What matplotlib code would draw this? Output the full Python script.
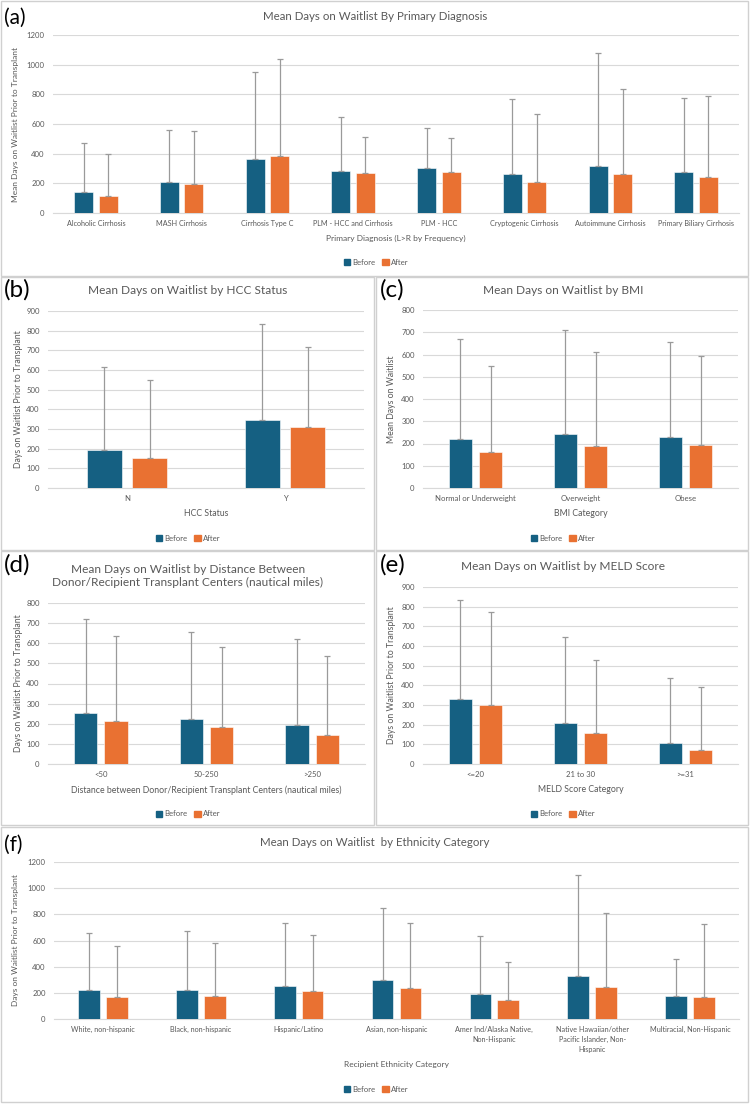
import matplotlib
matplotlib.use("Agg")
import matplotlib.pyplot as plt
import numpy as np
from matplotlib.patches import Rectangle, Patch
from matplotlib import font_manager

# ---------------- data ----------------
diag_cats = ["Alcoholic Cirrhosis", "MASH Cirrhosis", "Cirrhosis Type C",
             "PLM - HCC and Cirrhosis", "PLM - HCC", "Cryptogenic Cirrhosis",
             "Autoimmune Cirrhosis", "Primary Biliary Cirrhosis"]
diag_before = [143, 207, 361, 285, 301, 260, 319, 276]
diag_after = [114, 195, 384, 272, 274, 207, 261, 240]
diag_before_err = [332, 350, 591, 365, 274, 506, 757, 498]
diag_after_err = [286, 355, 651, 240, 234, 458, 573, 547]

hcc_cats = ["N", "Y"]
hcc_before = [191, 346]
hcc_after = [152, 312]
hcc_before_err = [424, 490]
hcc_after_err = [395, 405]

bmi_cats = ["Normal or Underweight", "Overweight", "Obese"]
bmi_before = [222, 243, 231]
bmi_after = [162, 190, 192]
bmi_before_err = [449, 467, 425]
bmi_after_err = [388, 421, 403]

dist_cats = ["<50", "50-250", ">250"]
dist_before = [252, 222, 195]
dist_after = [214, 184, 142]
dist_before_err = [467, 434, 426]
dist_after_err = [422, 397, 393]

meld_cats = ["<=20", "21 to 30", ">=31"]
meld_before = [333, 208, 105]
meld_after = [299, 157, 73]
meld_before_err = [503, 436, 334]
meld_after_err = [475, 370, 321]

eth_cats = ["White, non-hispanic", "Black, non-hispanic", "Hispanic/Latino",
            "Asian, non-hispanic", "Amer Ind/Alaska Native,\nNon-Hispanic",
            "Native Hawaiian/other\nPacific Islander, Non-\nHispanic",
            "Multiracial, Non-Hispanic"]
eth_before = [224, 221, 254, 295, 188, 331, 178]
eth_after = [170, 175, 211, 239, 145, 242, 170]
eth_before_err = [432, 450, 478, 552, 445, 767, 282]
eth_after_err = [387, 405, 430, 493, 287, 572, 557]

# ---------------- style ----------------
names = {f.name for f in font_manager.fontManager.ttflist}
FONT = "Liberation Sans Narrow" if "Liberation Sans Narrow" in names else "Lato"
plt.rcParams["font.family"] = [FONT, "DejaVu Sans"]

C_BEFORE = "#156082"
C_AFTER = "#E97132"
TXT = "#595959"
GRID = "#D9D9D9"
ERR = "#9A9A9A"

W, H = 750, 1104
fig = plt.figure(figsize=(W / 100, H / 100), dpi=100)


def fx(x):
    return x / W


def fy(y):
    return 1 - y / H


# panel borders
for (x0, y0, x1, y1) in [(1, 1, 748, 276), (1, 277, 374, 550), (376, 277, 748, 550),
                         (1, 551, 374, 825), (376, 551, 748, 825), (1, 827, 748, 1102)]:
    fig.patches.append(Rectangle((fx(x0), fy(y1)), fx(x1) - fx(x0), fy(y0) - fy(y1),
                                 transform=fig.transFigure, fill=False,
                                 edgecolor="#D0D0D0", lw=1.0))


def panel(box, cats, before, after, berr, aerr, ymax, ystep, title, title_xy,
          letter, letter_xy, letter_fs, ylabel, ylabel_x, xlabel, xlabel_y,
          legend_xy, title_fs=8.6, tick_fs=5.6, cat_fs=5.6, lab_fs=6.3):
    x0, y0, x1, y1 = box
    ax = fig.add_axes([fx(x0), fy(y1), fx(x1) - fx(x0), fy(y0) - fy(y1)])
    n = len(cats)
    x = np.arange(n)
    w = 0.222
    off = 0.143
    ax.bar(x - off, before, w, color=C_BEFORE, edgecolor="white", linewidth=0.4, zorder=3)
    ax.bar(x + off, after, w, color=C_AFTER, edgecolor="white", linewidth=0.4, zorder=3)
    ax.errorbar(x - off, before, yerr=[np.zeros(n), berr], fmt="none", ecolor=ERR,
                elinewidth=0.9, capsize=2, capthick=0.9, zorder=4)
    ax.errorbar(x + off, after, yerr=[np.zeros(n), aerr], fmt="none", ecolor=ERR,
                elinewidth=0.9, capsize=2, capthick=0.9, zorder=4)
    ax.set_xlim(-0.5, n - 0.5)
    ax.set_ylim(0, ymax)
    ax.set_yticks(np.arange(0, ymax + 1, ystep))
    ax.set_xticks(x)
    ax.set_xticklabels(cats, fontsize=cat_fs, color=TXT, linespacing=1.5)
    ax.tick_params(axis="y", labelsize=tick_fs, labelcolor=TXT, length=0, pad=6)
    ax.tick_params(axis="x", length=0, pad=5)
    ax.grid(axis="y", color=GRID, lw=0.8, zorder=0)
    ax.set_axisbelow(True)
    for s in ["top", "right", "left"]:
        ax.spines[s].set_visible(False)
    ax.spines["bottom"].set_color(GRID)
    ax.spines["bottom"].set_linewidth(0.8)
    fig.text(fx(title_xy[0]), fy(title_xy[1]), title, ha="center", va="center",
             fontsize=title_fs, color=TXT, linespacing=1.3)
    fig.text(fx(letter_xy[0]), fy(letter_xy[1]), letter, ha="left", va="center",
             fontsize=letter_fs, color="black")
    fig.text(fx(ylabel_x), fy((y0 + y1) / 2), ylabel, ha="center", va="center",
             rotation=90, fontsize=lab_fs, color=TXT)
    fig.text(fx((x0 + x1) / 2), fy(xlabel_y), xlabel, ha="center", va="center",
             fontsize=lab_fs, color=TXT)
    handles = [Patch(color=C_BEFORE, label="Before"), Patch(color=C_AFTER, label="After")]
    fig.legend(handles=handles, loc="center",
               bbox_to_anchor=(fx(legend_xy[0]), fy(legend_xy[1])),
               ncol=2, frameon=False, fontsize=tick_fs, handlelength=0.8,
               handleheight=0.8, handletextpad=0.3, columnspacing=0.9,
               labelcolor=TXT)
    return ax


panel((53, 35, 739, 213), diag_cats, diag_before, diag_after, diag_before_err,
      diag_after_err, 1200, 200, "Mean Days on Waitlist By Primary Diagnosis", (375, 16),
      "(a)", (4, 18), 15, "Mean Days on Waitlist Prior to Transplant", 16,
      "Primary Diagnosis (L>R by Frequency)", 238, (376, 262),
      title_fs=8.3, cat_fs=5.2, lab_fs=6.0)

panel((48, 311, 364, 488), hcc_cats, hcc_before, hcc_after, hcc_before_err,
      hcc_after_err, 900, 100, "Mean Days on Waitlist by HCC Status", (188, 291),
      "(b)", (4, 290), 17.5, "Days on Waitlist Prior to Transplant", 19,
      "HCC Status", 513, (188, 538))

panel((423, 310, 738, 488), bmi_cats, bmi_before, bmi_after, bmi_before_err,
      bmi_after_err, 800, 100, "Mean Days on Waitlist by BMI", (563, 291),
      "(c)", (380, 290), 17.5, "Mean Days on Waitlist", 392,
      "BMI Category", 513, (563, 538))

panel((48, 603, 365, 764), dist_cats, dist_before, dist_after, dist_before_err,
      dist_after_err, 800, 100,
      "Mean Days on Waitlist by Distance Between\nDonor/Recipient Transplant Centers (nautical miles)",
      (188, 576), "(d)", (4, 565), 17.5, "Days on Waitlist Prior to Transplant", 19,
      "Distance between Donor/Recipient Transplant Centers (nautical miles)", 790, (188, 814))

panel((423, 587, 738, 764), meld_cats, meld_before, meld_after, meld_before_err,
      meld_after_err, 900, 100, "Mean Days on Waitlist by MELD Score", (563, 567),
      "(e)", (380, 565), 17.5, "Days on Waitlist Prior to Transplant", 392,
      "MELD Score Category", 789, (563, 814))

panel((54, 862, 739, 1019), eth_cats, eth_before, eth_after, eth_before_err,
      eth_after_err, 1200, 200, "Mean Days on Waitlist  by Ethnicity Category", (375, 843),
      "(f)", (4, 845), 15, "Days on Waitlist Prior to Transplant", 16,
      "Recipient Ethnicity Category", 1065, (376, 1089),
      title_fs=8.3, cat_fs=5.2, lab_fs=6.0)

fig.savefig("out.png", dpi=100, facecolor="white")
